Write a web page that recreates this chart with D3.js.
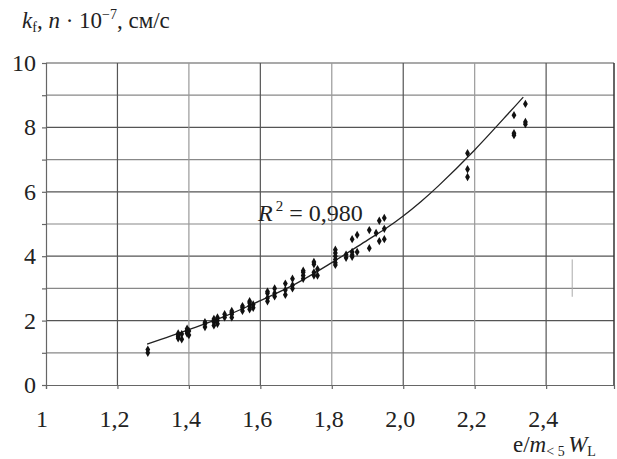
<!DOCTYPE html>
<html><head><meta charset="utf-8">
<script src="https://cdn.jsdelivr.net/npm/d3@7"></script>
<style>body{margin:0;background:#fff;}</style>
</head><body>
<svg id="c" width="617" height="459"></svg>
<script>
const xTicks = [1, 1.2, 1.4, 1.6, 1.8, 2.0, 2.2, 2.4];
const xTickLabels = ["1", "1,2", "1,4", "1,6", "1,8", "2,0", "2,2", "2,4"];
const yTicks = [0, 2, 4, 6, 8, 10];
const yGrid = [1, 2, 3, 4, 5, 6, 7, 8, 9, 10];
const pointX = [1.285,1.285,
 1.37,1.37,1.37,1.37,1.38,1.38,1.395,1.395,1.395,1.395,1.40,1.40,
 1.445,1.445,1.445,1.47,1.47,1.47,1.47,1.48,1.48,1.48,1.50,1.50,
 1.52,1.52,1.52,1.52,1.55,1.55,1.55,1.57,1.57,1.57,1.57,1.58,1.58,
 1.62,1.62,1.62,1.62,1.64,1.64,1.64,1.67,1.67,1.67,1.69,1.69,1.69,
 1.72,1.72,1.72,1.72,1.75,1.75,1.75,1.75,1.76,1.76,
 1.81,1.81,1.81,1.81,1.81,1.81,1.84,1.84,
 1.857,1.857,1.857,1.857,1.871,1.871,1.905,1.905,1.924,1.933,1.933,1.947,1.947,1.947,
 2.18,2.18,2.18,2.31,2.31,2.31,2.342,2.342,2.342];
const pointY = [1.0,1.1,
 1.45,1.5,1.55,1.6,1.42,1.58,1.6,1.65,1.7,1.75,1.55,1.68,
 1.8,1.9,1.95,1.85,1.95,2.0,2.05,1.9,2.0,2.1,2.1,2.2,
 2.1,2.2,2.25,2.3,2.3,2.4,2.45,2.35,2.45,2.55,2.6,2.4,2.5,
 2.6,2.7,2.85,2.9,2.75,2.85,3.0,2.8,2.95,3.15,3.0,3.1,3.3,
 3.3,3.4,3.5,3.55,3.4,3.5,3.75,3.82,3.4,3.6,
 3.73,3.8,3.9,4.0,4.1,4.2,3.95,4.05,
 3.98,4.04,4.13,4.53,4.13,4.66,4.25,4.81,4.72,4.47,5.1,4.53,4.85,5.19,
 6.46,6.7,7.2,7.76,7.82,8.38,8.1,8.17,8.73];
const curveX = [1.283, 1.4, 1.5, 1.6, 1.7, 1.8, 1.9, 1.95, 2.0, 2.05, 2.1, 2.2, 2.3, 2.336];
const curveY = [1.27, 1.72, 2.13, 2.62, 3.15, 3.8, 4.5, 4.85, 5.25, 5.7, 6.2, 7.3, 8.5, 8.94];

const svg = d3.select("#c");
const FONT = "'Liberation Serif', 'DejaVu Serif', 'Times New Roman', Times, serif";
const x = d3.scaleLinear().domain([1, 2.59]).range([46, 614]);
const y = d3.scaleLinear().domain([0, 10]).range([385, 63]);

// horizontal grid
svg.append("g").selectAll("line").data(yGrid).join("line")
  .attr("x1", x(1)).attr("x2", x(2.59))
  .attr("y1", d => y(d)).attr("y2", d => y(d))
  .attr("stroke", (d,i) => i % 2 ? "#555" : "#888").attr("stroke-width", 1.2);
// vertical grid
svg.append("g").selectAll("line").data(xTicks.slice(1)).join("line")
  .attr("x1", d => x(d)).attr("x2", d => x(d))
  .attr("y1", y(0)).attr("y2", y(10))
  .attr("stroke", (d,i) => i % 2 ? "#999" : "#555").attr("stroke-width", 1.2);
// right border
svg.append("line").attr("x1", x(2.59)).attr("x2", x(2.59)).attr("y1", y(0)).attr("y2", y(10))
  .attr("stroke", "#333").attr("stroke-width", 1.5);
// small stray vertical line
svg.append("line").attr("x1", x(2.473)).attr("x2", x(2.473)).attr("y1", y(3.9)).attr("y2", y(2.74))
  .attr("stroke", "#aaa").attr("stroke-width", 1);

// axes
const yAxis = svg.append("g").attr("transform", `translate(${x(1)},0)`)
  .call(d3.axisLeft(y).tickValues(yGrid.concat([0])).tickSize(4).tickFormat(""));
const xAxis = svg.append("g").attr("transform", `translate(0,${y(0)})`)
  .call(d3.axisBottom(x).tickValues(xTicks).tickSize(4).tickFormat(""));
[yAxis, xAxis].forEach(a => { a.selectAll("path,line").attr("stroke", "#666").attr("stroke-width", 1.2); });

// y tick labels
svg.append("g").selectAll("text").data(yTicks).join("text")
  .attr("x", 36).attr("y", d => y(d) + 8).attr("text-anchor", "end")
  .attr("font-family", FONT).attr("fill", "#222")
  .attr("font-size", 24).text(d => d);
// x tick labels
svg.append("g").selectAll("text").data(xTicks).join("text")
  .attr("x", (d,i) => x(d) - (i === 0 ? 4 : 3)).attr("y", 427).attr("text-anchor", "middle")
  .attr("font-family", FONT).attr("fill", "#222")
  .attr("font-size", 24).text((d,i) => xTickLabels[i]);

// curve
const curve = curveX.map((v,i) => [v, curveY[i]]);
svg.append("path").datum(curve)
  .attr("d", d3.line().x(d => x(d[0])).y(d => y(d[1])).curve(d3.curveCatmullRom))
  .attr("fill", "none").attr("stroke", "#222").attr("stroke-width", 1.3);

// points
const pts = pointX.map((v,i) => [v, pointY[i]]);
svg.append("g").selectAll("path").data(pts).join("path")
  .attr("transform", d => `translate(${x(d[0])},${y(d[1])})`)
  .attr("d", d3.symbol().type(d3.symbolDiamond).size(20))
  .attr("fill", "#111");

// R² label
const r = svg.append("text").attr("x", 258).attr("y", 221).attr("font-size", 24)
  .attr("font-family", FONT).attr("fill", "#222");
r.append("tspan").attr("font-style", "italic").text("R");
r.append("tspan").attr("font-size", 15).attr("dy", -10).attr("dx", 3).text("2");
r.append("tspan").attr("dy", 10).text(" = 0,980");

// y title
const t = svg.append("text").attr("x", 22).attr("y", 28).attr("font-size", 23)
  .attr("font-family", FONT).attr("fill", "#222");
t.append("tspan").attr("font-style", "italic").text("k");
t.append("tspan").attr("font-size", 14).attr("dy", 4).text("f");
t.append("tspan").attr("dy", -4).text(", ");
t.append("tspan").attr("font-style", "italic").text("n");
t.append("tspan").text(" \u00B7 10");
t.append("tspan").attr("font-size", 14).attr("dy", -9).text("\u22127");
t.append("tspan").attr("dy", 9).text(", см/с");

// x title
const xt = svg.append("text").attr("x", 513).attr("y", 452).attr("font-size", 23)
  .attr("font-family", FONT).attr("fill", "#222");
xt.append("tspan").text("e/");
xt.append("tspan").attr("font-style", "italic").text("m");
xt.append("tspan").attr("font-size", 14).attr("dy", 4).text("< 5 ");
xt.append("tspan").attr("dy", -4).attr("font-style", "italic").text("W");
xt.append("tspan").attr("font-size", 14).attr("dy", 4).text("L");
</script>
</body></html>
